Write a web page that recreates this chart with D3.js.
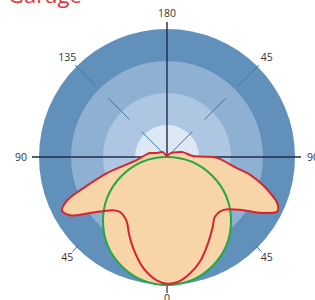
<!DOCTYPE html>
<html>
<head>
<meta charset="utf-8">
<script src="https://cdn.jsdelivr.net/npm/d3@7"></script>
<style>
  html, body { margin: 0; padding: 0; background: #ffffff; }
  svg { display: block; }
</style>
</head>
<body>
<svg id="chart" width="315" height="300"></svg>
<script>
// ---- data ----
const title = "Garage";
const ringValues = [400, 300, 200, 100];
const maxValue = 400;
// measured distribution (angle in degrees from nadir, + = right side)
const redAngles = [-180, -140, -112, -103, -98, -88, -83, -75, -69, -66.5, -63, -59, -54, -45.5, -40.5, -32.5, -26, -20.5, -12, -5,
                   0, 5, 11, 18, 25.5, 33, 38.5, 46.5, 55, 59, 61.5, 63.5, 65, 67.5, 69.5, 73, 78, 81, 89, 90.5, 92, 95, 107, 111, 140];
const redValues = [3, 20, 34, 55, 63, 84, 101, 194, 291, 340, 368, 353, 298, 237, 226, 236, 270, 303, 355, 386,
                   396, 392, 372, 340, 298, 262, 240, 241, 290, 339, 366, 384, 384, 372, 354, 320, 265, 221, 156, 120, 81, 72, 52, 44, 15];
const lambertPeak = 400;
const gridAngles = [0, 45, 90, 135, 180, 225, 270, 315]; // degrees from nadir, clockwise toward right
const gridLabels = ["0", "45", "90", "45", "180", "135", "90", "45"];

// ---- layout ----
const svg = d3.select("#chart");
const cx = 167, cy = 157;
const r = d3.scaleLinear().domain([0, maxValue]).range([0, 128]);
const ringColors = ["#6190bb", "#8eb0d2", "#adc7e2", "#dce8f4"];

// point from nadir-angle (deg) and pixel radius
function pt(deg, rad) {
  const a = deg * Math.PI / 180;
  return [cx + rad * Math.sin(a), cy + rad * Math.cos(a)];
}

// title
svg.append("text")
  .attr("x", 8).attr("y", 3)
  .attr("font-family", "Open Sans, sans-serif")
  .attr("font-size", 22)
  .attr("fill", "#e8323c")
  .text(title);

const g = svg.append("g");

// rings
g.selectAll("circle.ring").data(ringValues).join("circle")
  .attr("class", "ring")
  .attr("cx", cx).attr("cy", cy)
  .attr("r", d => r(d))
  .attr("fill", (d, i) => ringColors[i]);

// diagonal guides (upper, dashed)
[135, 225].forEach(deg => {
  const p0 = pt(deg, 6), p1 = pt(deg, 133);
  g.append("line")
    .attr("x1", p0[0]).attr("y1", p0[1]).attr("x2", p1[0]).attr("y2", p1[1])
    .attr("stroke", "#3f7ba8").attr("stroke-width", 1)
    .attr("stroke-dasharray", "30,17");
});
// lower diagonal ticks
[45, 315].forEach(deg => {
  const p0 = pt(deg, 124), p1 = pt(deg, 134);
  g.append("line")
    .attr("x1", p0[0]).attr("y1", p0[1]).attr("x2", p1[0]).attr("y2", p1[1])
    .attr("stroke", "#3f7ba8").attr("stroke-width", 1);
});

// main axes
g.append("line").attr("x1", cx - 135).attr("x2", cx + 134).attr("y1", cy).attr("y2", cy)
  .attr("stroke", "#1f2d48").attr("stroke-width", 1.4);
g.append("line").attr("x1", cx).attr("x2", cx).attr("y1", cy - 135).attr("y2", cy)
  .attr("stroke", "#1f2d48").attr("stroke-width", 1.4);
g.append("line").attr("x1", cx).attr("x2", cx).attr("y1", cy + 127).attr("y2", cy + 136)
  .attr("stroke", "#1f2d48").attr("stroke-width", 1.2);

// Lambertian reference circle fill
const lamR = r(lambertPeak / 2);
g.append("circle").attr("cx", cx).attr("cy", cy + lamR).attr("r", lamR)
  .attr("fill", "#f8d4a9");

// measured distribution
const redData = redAngles.map((a, i) => [a, redValues[i]]);
const radial = d3.lineRadial()
  .angle(d => Math.PI - d[0] * Math.PI / 180)
  .radius(d => r(d[1]))
  .curve(d3.curveCatmullRomClosed.alpha(0.5));
g.append("path")
  .attr("transform", `translate(${cx},${cy})`)
  .attr("d", radial(redData))
  .attr("fill", "#f8d4a9");

// strokes
g.append("circle").attr("cx", cx).attr("cy", cy + lamR).attr("r", lamR)
  .attr("fill", "none").attr("stroke", "#22a844").attr("stroke-width", 2);
g.append("path")
  .attr("transform", `translate(${cx},${cy})`)
  .attr("d", radial(redData))
  .attr("fill", "none").attr("stroke", "#d8232e").attr("stroke-width", 2)
  .attr("stroke-linejoin", "round");

// labels
gridAngles.forEach((deg, i) => {
  const rad = (deg === 90 || deg === 270) ? 146 : (deg === 180 ? 144 : 141);
  const p = pt(deg, rad);
  g.append("text")
    .attr("x", p[0]).attr("y", p[1])
    .attr("text-anchor", "middle")
    .attr("dominant-baseline", "central")
    .attr("font-family", "Open Sans, sans-serif")
    .attr("font-size", 10.5)
    .attr("fill", "#333")
    .text(gridLabels[i]);
});
</script>
</body>
</html>
